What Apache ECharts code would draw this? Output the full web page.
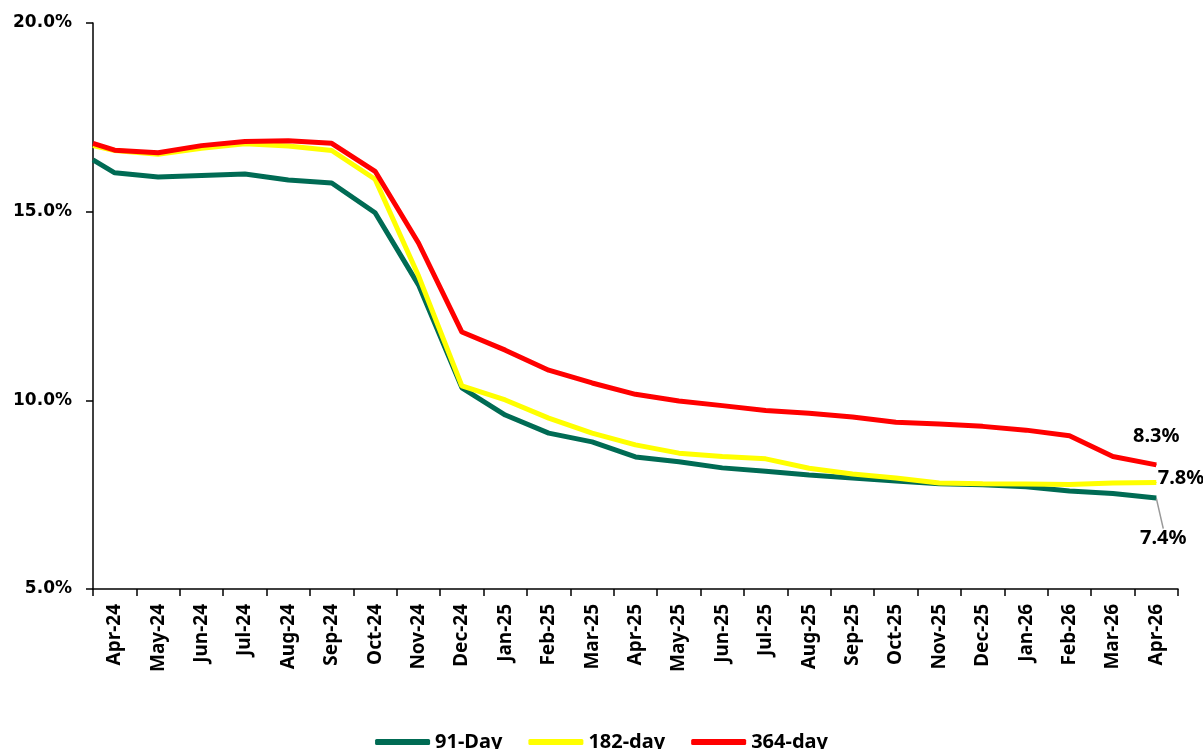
<!DOCTYPE html>
<html>
<head>
<meta charset="utf-8">
<script src="https://cdn.jsdelivr.net/npm/echarts@6/dist/echarts.min.js"></script>
<style>
html,body{margin:0;padding:0;background:#fff;}
#c{width:1203px;height:749px;}
</style>
</head>
<body>
<div id="c"></div>
<script>
// Category labels (month bins)
const categories = ['Apr-24','May-24','Jun-24','Jul-24','Aug-24','Sep-24','Oct-24','Nov-24','Dec-24',
  'Jan-25','Feb-25','Mar-25','Apr-25','May-25','Jun-25','Jul-25','Aug-25','Sep-25','Oct-25','Nov-25',
  'Dec-25','Jan-26','Feb-26','Mar-26','Apr-26'];
// Positions of observations on the month scale (first one at the start of the axis)
const obsPos = [-0.5,0,1,2,3,4,5,6,7,8,9,10,11,12,13,14,15,16,17,18,19,20,21,22,23,24];
const day91  = [16.37,16.03,15.92,15.96,16.00,15.84,15.76,14.97,13.06,10.33,9.61,9.13,8.90,8.50,8.37,8.21,8.12,8.02,7.94,7.86,7.79,7.76,7.71,7.60,7.53,7.41];
const day182 = [16.75,16.62,16.52,16.68,16.80,16.74,16.62,15.86,13.30,10.38,10.01,9.53,9.13,8.82,8.60,8.51,8.45,8.20,8.05,7.94,7.81,7.79,7.78,7.77,7.81,7.82];
const day364 = [16.81,16.63,16.56,16.75,16.86,16.88,16.81,16.07,14.17,11.81,11.33,10.80,10.46,10.16,9.98,9.86,9.73,9.66,9.56,9.42,9.37,9.31,9.21,9.06,8.51,8.29];
const yTicks = {min:5, max:20, interval:5};

const FONT = 'Noto Sans';
function pairs(vals){ return vals.map((v,i)=>[obsPos[i], v]); }
function withEndLabel(vals, labelCfg){
  const d = pairs(vals);
  const last = d.length-1;
  d[last] = {value:d[last], symbol:'circle', symbolSize:1,
    label:Object.assign({show:true, fontFamily:FONT, fontWeight:'bold', fontSize:20, color:'#000',
      formatter:(p)=>p.value[1].toFixed(1)+'%'}, labelCfg)};
  return d;
}

const chart = echarts.init(document.getElementById('c'), null, {renderer:'canvas'});
chart.setOption({
  animation:false,
  backgroundColor:'#fff',
  grid:{left:93, right:25, top:23, bottom:160, containLabel:false},
  xAxis:[{
    type:'category', data:categories, boundaryGap:true,
    axisLine:{lineStyle:{color:'#000', width:1.5}},
    axisTick:{show:true, alignWithLabel:false, length:7, lineStyle:{color:'#000', width:1.5}},
    axisLabel:{rotate:90, interval:0, fontFamily:FONT, fontWeight:'bold', fontSize:19, color:'#000', margin:15},
    splitLine:{show:false}
  },{
    type:'value', min:-0.5, max:24.5, show:false
  }],
  yAxis:{
    type:'value', min:yTicks.min, max:yTicks.max, interval:yTicks.interval,
    axisLine:{show:true, onZero:false, lineStyle:{color:'#000', width:1.5}},
    axisTick:{show:true, length:7, lineStyle:{color:'#000', width:1.5}},
    axisLabel:{fontFamily:'DejaVu Sans', fontWeight:'bold', fontSize:17, color:'#000', margin:21,
      formatter:(v)=>v.toFixed(1)+'%'},
    splitLine:{show:false}
  },
  legend:{
    bottom:-8, left:'center', itemWidth:55, itemHeight:6, itemGap:26, icon:'roundRect',
    textStyle:{fontFamily:FONT, fontWeight:'bold', fontSize:20, color:'#000'},
    data:['91-Day','182-day','364-day']
  },
  series:[
    {name:'91-Day', type:'line', xAxisIndex:1, symbol:'none', showSymbol:true, color:'#006B54',
      lineStyle:{width:5, color:'#006B54'},
      labelLayout:{dx:7, dy:26},
      labelLine:{show:true, lineStyle:{color:'#999', width:1.5}},
      data:withEndLabel(day91, {position:'bottom', distance:4})},
    {name:'182-day', type:'line', xAxisIndex:1, symbol:'none', showSymbol:true, color:'#FFFF00',
      lineStyle:{width:5, color:'#FFFF00'},
      data:withEndLabel(day182, {position:'right', distance:1, offset:[0,-4]})},
    {name:'364-day', type:'line', xAxisIndex:1, symbol:'none', showSymbol:true, color:'#FF0000',
      lineStyle:{width:5, color:'#FF0000'},
      data:withEndLabel(day364, {position:'top', distance:18})}
  ]
});
</script>
</body>
</html>
